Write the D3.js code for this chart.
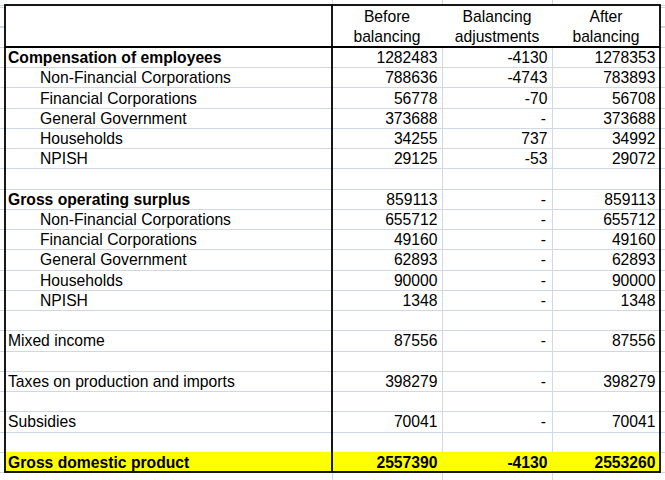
<!DOCTYPE html>
<html>
<head>
<meta charset="utf-8">
<script src="https://cdn.jsdelivr.net/npm/d3@7"></script>
<style>
  html, body { margin: 0; padding: 0; background: #fff; }
  svg { display: block; font-family: "Liberation Sans", Arial, sans-serif; }
</style>
</head>
<body>
<div id="table"></div>
<script>
// Row labels of the balancing table ("" = empty spacer row)
const labels = [
  "Compensation of employees",
  "Non-Financial Corporations", "Financial Corporations", "General Government", "Households", "NPISH",
  "",
  "Gross operating surplus",
  "Non-Financial Corporations", "Financial Corporations", "General Government", "Households", "NPISH",
  "",
  "Mixed income",
  "",
  "Taxes on production and imports",
  "",
  "Subsidies",
  "",
  "Gross domestic product"
];

// 1 = sub-item (indented) under the heading above it
const levels = [0, 1, 1, 1, 1, 1, 0, 0, 1, 1, 1, 1, 1, 0, 0, 0, 0, 0, 0, 0, 0];

// headings (bold label) and the grand total (whole row bold, highlighted)
const headings = ["Compensation of employees", "Gross operating surplus", "Gross domestic product"];
const totalRow = "Gross domestic product";

const columnHeaders = [["Before", "balancing"], ["Balancing", "adjustments"], ["After", "balancing"]];

// values (null = empty row, 0 adjustment shown as "-")
const before = [1282483, 788636, 56778, 373688, 34255, 29125, null,
  859113, 655712, 49160, 62893, 90000, 1348, null,
  87556, null, 398279, null, 70041, null, 2557390];
const adjustments = [-4130, -4743, -70, 0, 737, -53, null,
  0, 0, 0, 0, 0, 0, null,
  0, null, 0, null, 0, null, -4130];
const after = [1278353, 783893, 56708, 373688, 34992, 29072, null,
  859113, 655712, 49160, 62893, 90000, 1348, null,
  87556, null, 398279, null, 70041, null, 2553260];

const series = [before, adjustments, after];

function renderTable(containerId) {
  const width = 665, height = 480;
  const top = 5, headerBottom = 47, bottom = 472;
  const left = 5, right = 660;
  const colEdges = [left, 332, 442, 552, right];
  const fontSize = 15.7;
  const gridColor = "#d0d7e5";

  const svg = d3.select(`#${containerId}`).append("svg")
    .attr("width", width)
    .attr("height", height);

  const y = d3.scaleLinear().domain([0, labels.length]).range([headerBottom, bottom]);
  const rowH = y(1) - y(0);

  // grid lines (spreadsheet background)
  const grid = svg.append("g").attr("stroke", gridColor).attr("stroke-width", 1);
  const hLines = d3.range(-3, labels.length + 3).map(i => y(i)).concat([top, (top + headerBottom) / 2]);
  grid.selectAll("line.h")
    .data(hLines)
    .join("line")
    .attr("class", "h")
    .attr("x1", 0).attr("x2", width)
    .attr("y1", d => Math.round(d) + 0.5).attr("y2", d => Math.round(d) + 0.5);
  grid.selectAll("line.v")
    .data(colEdges.slice(1, 4))
    .join("line")
    .attr("class", "v")
    .attr("x1", d => d + 0.5).attr("x2", d => d + 0.5)
    .attr("y1", 0).attr("y2", height);

  // header cells are merged: hide the mid gridline inside the table
  svg.append("rect")
    .attr("x", left).attr("y", top + 1)
    .attr("width", right - left).attr("height", headerBottom - top - 2)
    .attr("fill", "#fff");

  // yellow highlight for the total row
  const last = labels.indexOf(totalRow);
  svg.append("rect")
    .attr("x", left).attr("y", y(last))
    .attr("width", right - left).attr("height", rowH)
    .attr("fill", "#ffff00");

  const fmt = v => v === null ? "" : (v === 0 ? "-" : String(v));

  const rows = svg.append("g")
    .style("font-size", fontSize + "px")
    .attr("fill", "#000");

  const rowG = rows.selectAll("g.row")
    .data(labels.map((label, i) => ({ label, i })))
    .join("g")
    .attr("class", "row")
    .attr("transform", d => `translate(0,${y(d.i + 1) - 4.2})`)
    .style("font-weight", d => d.label === totalRow ? "bold" : "normal");

  rowG.append("text")
    .attr("x", d => levels[d.i] ? 40 : 8)
    .style("font-weight", d => headings.includes(d.label) ? "bold" : null)
    .text(d => d.label);

  series.forEach((vals, c) => {
    rowG.append("text")
      .attr("text-anchor", "end")
      .attr("x", d => colEdges[c + 2] - (vals[d.i] === 0 ? 6 : 4.5))
      .text(d => fmt(vals[d.i]));
  });

  // column headers
  const head = svg.append("g").style("font-size", fontSize + "px").attr("text-anchor", "middle");
  columnHeaders.forEach((lines, c) => {
    const cx = (colEdges[c + 1] + colEdges[c + 2]) / 2;
    lines.forEach((t, k) => {
      head.append("text")
        .attr("x", cx)
        .attr("y", 21.7 + k * 20)
        .text(t);
    });
  });

  // black borders
  const borders = svg.append("g").attr("stroke", "#000").attr("stroke-width", 1.8).attr("fill", "none");
  borders.append("rect")
    .attr("x", left).attr("y", top)
    .attr("width", right - left).attr("height", bottom - top);
  borders.append("line")
    .attr("x1", left).attr("x2", right)
    .attr("y1", headerBottom).attr("y2", headerBottom);
  borders.append("line")
    .attr("x1", colEdges[1]).attr("x2", colEdges[1])
    .attr("y1", top).attr("y2", bottom);
}

document.addEventListener("DOMContentLoaded", () => renderTable("table"));
</script>
</body>
</html>
